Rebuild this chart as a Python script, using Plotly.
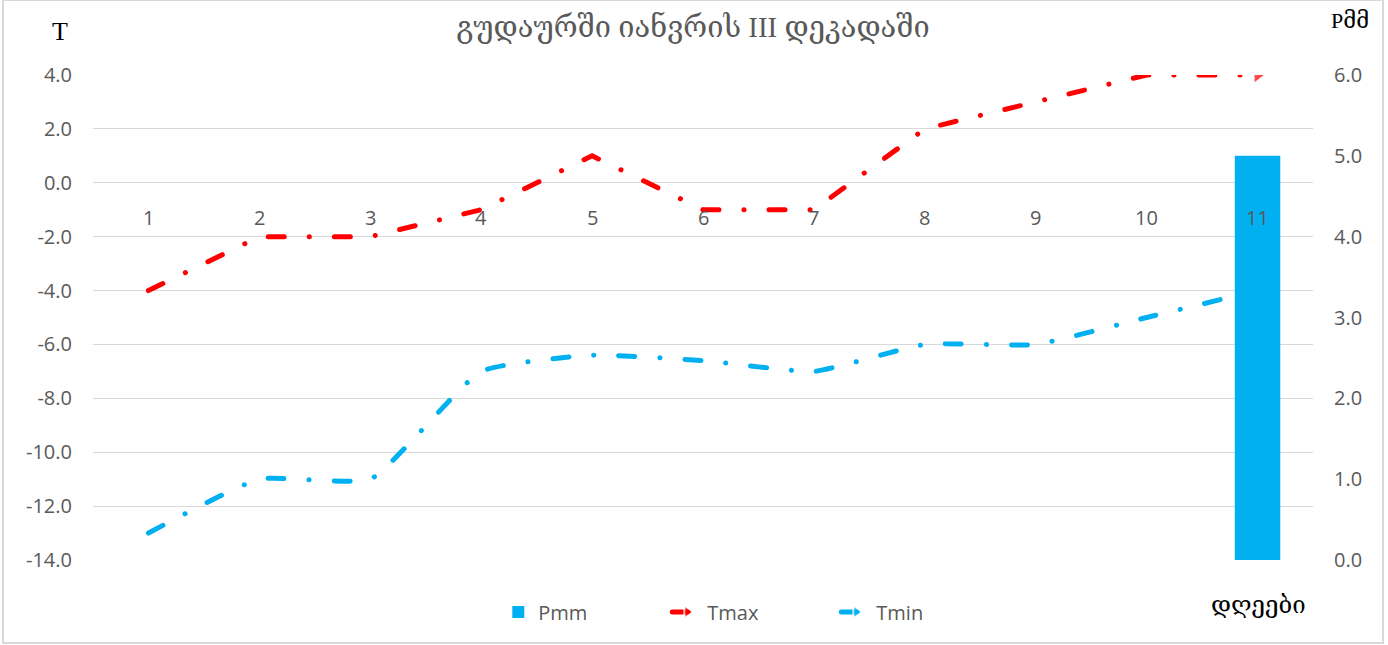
import plotly.graph_objects as go

days = [1, 2, 3, 4, 5, 6, 7, 8, 9, 10, 11]
day_labels = ["1", "2", "3", "4", "5", "6", "7", "8", "9", "10", "11"]
pmm = [0, 0, 0, 0, 0, 0, 0, 0, 0, 0, 5.0]
tmax = [-4, -2, -2, -1, 1, -1, -1, 2, 3, 4, 4]
tmin = [-13, -11, -11, -7, -6.4, -6.6, -7, -6, -6, -5, -4]

left_ticks = [4, 2, 0, -2, -4, -6, -8, -10, -12, -14]
left_tick_labels = ["4.0", "2.0", "0.0", "-2.0", "-4.0", "-6.0", "-8.0", "-10.0", "-12.0", "-14.0"]
right_ticks = [0, 1, 2, 3, 4, 5, 6]
right_tick_labels = ["0.0", "1.0", "2.0", "3.0", "4.0", "5.0", "6.0"]

title_text = "გუდაურში იანვრის III დეკადაში"
left_title = "T"
right_title = "Pმმ"
x_title = "დღეები"

TXT = "#595959"
GRID = "#d9d9d9"
BLUE = "#00B0F0"
RED = "#FF0000"
FONT = "Open Sans, Noto Sans, DejaVu Sans, sans-serif"
SERIF = "Liberation Serif, DejaVu Serif, serif"
DASH = "16px,25px,0.1px,25px"

W, H = 1388, 645

arrow_sizes = [0] * (len(days) - 1) + [14]

fig = go.Figure()
fig.add_trace(go.Bar(
    x=days, y=pmm, name="Pmm", marker=dict(color=BLUE, line=dict(width=0)),
    width=0.41, yaxis="y2",
))
fig.add_trace(go.Scatter(
    x=days, y=tmax, name="Tmax", mode="lines+markers",
    line=dict(color=RED, width=5, dash=DASH, shape="linear"),
    marker=dict(symbol="triangle-right", size=arrow_sizes, color=RED),
    yaxis="y",
))
fig.add_trace(go.Scatter(
    x=days, y=tmin, name="Tmin", mode="lines+markers",
    line=dict(color=BLUE, width=5, dash=DASH, shape="spline", smoothing=0.45),
    marker=dict(symbol="triangle-right", size=arrow_sizes, color=BLUE),
    yaxis="y",
))

annotations = []
for d, lab in zip(days, day_labels):
    annotations.append(dict(
        x=d, y=0, xref="x", yref="y", text=lab, showarrow=False,
        xanchor="center", yanchor="top", yshift=-19,
        font=dict(family=FONT, size=20, color=TXT),
    ))
annotations += [
    dict(x=-0.027, y=1.089, xref="paper", yref="paper", text=left_title,
         xanchor="center", yanchor="middle",
         showarrow=False, font=dict(family=SERIF, size=26, color="#000000")),
    dict(x=1.03, y=1.113, xref="paper", yref="paper", text=right_title,
         xanchor="center", yanchor="middle",
         showarrow=False, font=dict(family=SERIF, size=22, color="#000000")),
    dict(x=0.955, y=-0.093, xref="paper", yref="paper", text=x_title,
         xanchor="center", yanchor="middle",
         showarrow=False, font=dict(family=SERIF, size=24, color="#000000")),
]

fig.update_layout(
    width=W, height=H,
    margin=dict(l=93, r=75, t=75, b=85),
    paper_bgcolor="white", plot_bgcolor="white",
    title=dict(text=title_text, x=693 / W, xanchor="center",
               y=1 - 27 / H, yanchor="middle", yref="container",
               font=dict(family=SERIF, size=29, color=TXT)),
    xaxis=dict(range=[0.5, 11.5], showticklabels=False, showgrid=False,
               zeroline=False, showline=False, ticks=""),
    yaxis=dict(range=[-14, 4], tickvals=left_ticks, ticktext=left_tick_labels,
               showgrid=True, gridcolor=GRID, gridwidth=1.3, zeroline=False,
               showline=False, ticks="", ticklabelstandoff=20,
               tickfont=dict(family=FONT, size=20, color=TXT)),
    yaxis2=dict(range=[0, 6], tickvals=right_ticks, ticktext=right_tick_labels,
                overlaying="y", side="right", showgrid=False, zeroline=False,
                showline=False, ticks="", ticklabelstandoff=20,
                tickfont=dict(family=FONT, size=20, color=TXT)),
    legend=dict(orientation="h", x=0.54, xanchor="center", y=-0.107,
                yanchor="middle", itemsizing="constant", traceorder="normal",
                entrywidth=124, entrywidthmode="pixels",
                font=dict(family=FONT, size=20, color=TXT)),
    annotations=annotations,
    shapes=[dict(type="rect", xref="paper", yref="paper",
                 x0=-0.0738, x1=1.0574, y0=-0.1711, y1=1.1546,
                 line=dict(color=GRID, width=2), fillcolor="rgba(0,0,0,0)",
                 layer="below")],
    showlegend=True,
)

post = """
document.body.style.margin = '0';
document.querySelectorAll('path.js-line').forEach(function(p){
  p.style.strokeLinecap = 'round';
});
"""

fig.write_html("out.html", post_script=post, config={"displayModeBar": False})
